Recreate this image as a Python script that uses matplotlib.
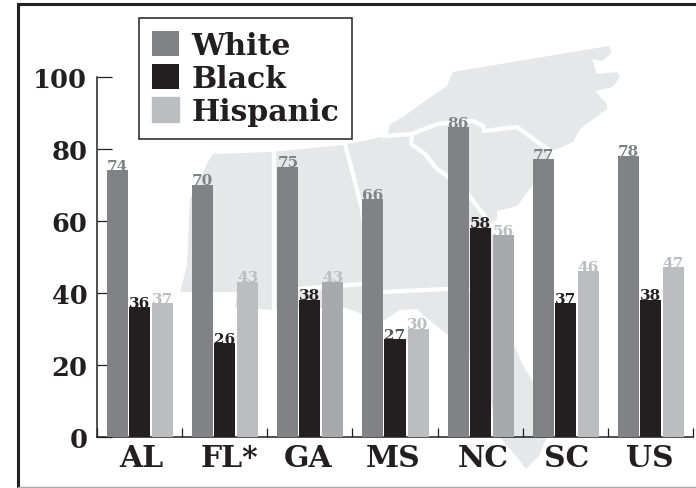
import matplotlib
matplotlib.use("Agg")
import matplotlib.pyplot as plt
from matplotlib.patches import Polygon
from matplotlib.transforms import ScaledTranslation

categories = ["AL", "FL*", "GA", "MS", "NC", "SC", "US"]
white_vals = [74, 70, 75, 66, 86, 77, 78]
black_vals = [36, 26, 38, 27, 58, 37, 38]
hispanic_vals = [37, 43, 43, 30, 56, 46, 47]
series_names = ["White", "Black", "Hispanic"]
y_ticks = [0, 20, 40, 60, 80, 100]

C_WHITE, C_BLACK, C_HISP, C_HISP_DARK, C_MAP = "#808285", "#231F20", "#BCBDC0", "#A7A9AC", "#E6E7E8"
FONT = "DejaVu Serif"
W, H = 696, 489

plt.rcParams["font.family"] = FONT
plt.rcParams["font.weight"] = "bold"
fig = plt.figure(figsize=(W / 100, H / 100), dpi=100, facecolor="white")

# background decoration drawn in pixel coordinates
bg = fig.add_axes([0, 0, 1, 1], zorder=0)
bg.set_xlim(0, W); bg.set_ylim(H, 0); bg.axis("off")
map_outline = [(213,155),(270,153),(343,146),(387,137),(390,125),(403,118),(425,102),(447,87),(453,73),
    (609,47),(612,53),(603,62),(592,60),(597,75),(617,73),(620,78),(613,88),(595,92),(607,105),(607,110),
    (580,130),(573,143),(553,152),(532,187),(517,207),(497,212),(497,220),(490,225),(500,260),(505,300),
    (513,343),(521,363),(533,383),(546,440),(539,457),(526,470),(516,457),(499,437),(490,400),(470,360),
    (447,335),(428,320),(417,310),(400,311),(383,322),(362,315),(343,308),(273,311),(235,308),(237,293),
    (213,293),(180,293),(187,267),(190,200),(208,163)]
bg.add_patch(Polygon(map_outline, closed=True, fc=C_MAP, ec="none"))
borders = [
    [(274,148),(274,313)],
    [(345,145),(362,210),(372,288)],
    [(298,290),(362,285)],
    [(383,293),(447,290),(470,290)],
    [(385,137),(412,135),(437,125),(473,122),(483,127),(484,132),(517,128),(553,154)],
    [(412,135),(411,145),(425,155),(437,170),(447,177),(468,195),(477,207),(487,220)],
]
for b in borders:
    bg.plot(*zip(*b), color="white", lw=3.1, solid_joinstyle="round")
# outer frame
bg.plot([17.5, 17.5, W], [H - 1, 4.5, 4.5], color="#231F20", lw=2.2, solid_joinstyle="miter")
bg.plot([17.5, W], [H - 1.5, H - 1.5], color="#A7A9AC", lw=1.0)

ax = fig.add_axes([97 / W, 1 - 437.5 / H, (693 - 97) / W, 360 / H], zorder=1)
ax.patch.set_alpha(0)
ax.set_xlim(-0.5, 6.5); ax.set_ylim(0, 100)
for s in ("top", "right"):
    ax.spines[s].set_visible(False)
for s in ("left", "bottom"):
    ax.spines[s].set_linewidth(1.1)
    ax.spines[s].set_color(C_BLACK)
    ax.spines[s].set_zorder(2)

bar_w = 21 / 85.14
offsets = [-22 / 85.14, 0, 23 / 85.14]
x = list(range(len(categories)))
hisp_colors = [C_HISP_DARK if c in ("GA", "NC") else C_HISP for c in categories]
series = [(white_vals, C_WHITE), (black_vals, C_BLACK), (hispanic_vals, hisp_colors)]
label_colors = [C_WHITE, C_BLACK, C_HISP]
containers = []
for (vals, col), off, lc in zip(series, offsets, label_colors):
    bc = ax.bar([i + off for i in x], vals, bar_w, color=col, zorder=3)
    containers.append(bc)
    texts = ax.bar_label(bc, padding=-2, color=lc, fontsize=11, zorder=2.5)
    if lc == C_BLACK:
        texts[categories.index("MS")].set_color("#58595B")

# y axis
ax.set_yticks(y_ticks)
ax.tick_params(axis="y", direction="in", length=11, width=0.9, color=C_BLACK, pad=7,
               labelsize=18.5, labelcolor=C_BLACK)
shift_down = ScaledTranslation(0, -1.0 / 100, fig.dpi_scale_trans)
for lab in ax.get_yticklabels():
    lab.set_transform(lab.get_transform() + shift_down)
# x axis: boundary ticks, labels on minor ticks
ax.set_xticks([i - 0.5 for i in range(len(categories) + 1)])
ax.set_xticklabels([])
ax.tick_params(axis="x", which="major", direction="in", length=6.5, width=0.9, color=C_BLACK)
label_shift = [0.02, 0.06, -0.02, -0.02, 0.035, 0.02, -0.01]
ax.set_xticks([i + d for i, d in zip(x, label_shift)], minor=True)
ax.set_xticklabels(categories, minor=True, fontsize=21.5, color=C_BLACK)
ax.tick_params(axis="x", which="minor", length=0, pad=4.5)

# legend
handles = [containers[0][0], containers[1][0], plt.Rectangle((0, 0), 1, 1, color=C_HISP)]
leg = fig.legend(handles, series_names, loc="upper left",
                 bbox_to_anchor=(139 / W, 1 - 19 / H), borderaxespad=0, fontsize=21.5,
                 frameon=True, fancybox=False, framealpha=1, edgecolor=C_BLACK, facecolor="white",
                 handlelength=0.91, handleheight=0.94, handletextpad=0.42,
                 labelspacing=0.13, borderpad=0.43, labelcolor=C_BLACK)
leg.get_frame().set_linewidth(1.1)
leg.set_zorder(5)

fig.savefig("out.png", dpi=100)
